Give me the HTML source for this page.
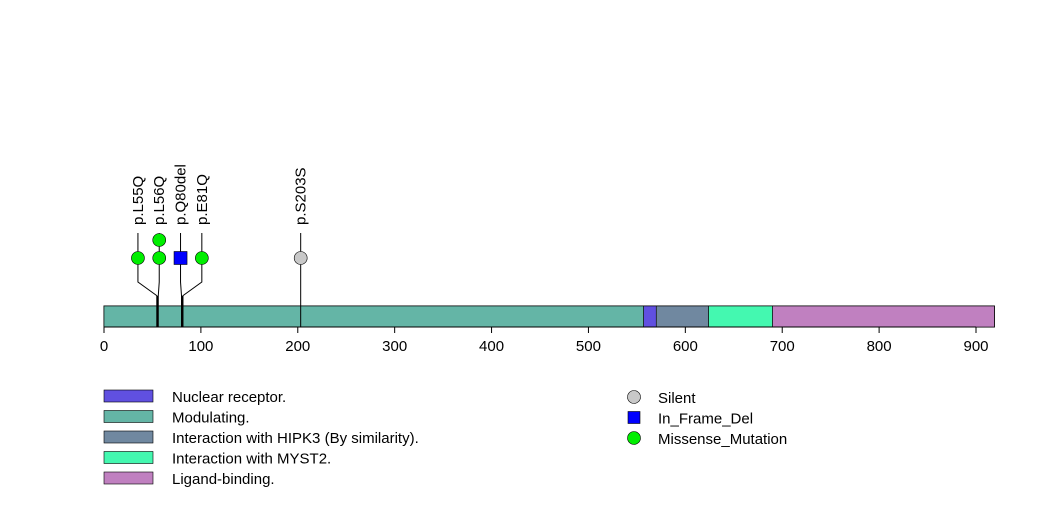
<!DOCTYPE html>
<html><head><meta charset="utf-8"><style>
body{margin:0;background:#fff}
svg{display:block;font-family:"Liberation Sans",sans-serif}
</style></head><body>
<svg width="1047" height="524">
<g id="g"></g>
</svg>
<script>
const domainNames=["Modulating.","Nuclear receptor.","Interaction with HIPK3 (By similarity).","Interaction with MYST2.","Ligand-binding."];
const domainStart=[0,557,570,624,690];
const domainEnd=[557,570,624,690,919];
const domainColors=["#64b5a6","#6050e0","#7088a0","#44f8b0","#c080c0"];
const mutLabels=["p.L55Q","p.L56Q","p.Q80del","p.E81Q","p.S203S"];
const mutPos=[55,56,80,81,203];
const mutTypes=["Missense_Mutation","Missense_Mutation","In_Frame_Del","Missense_Mutation","Silent"];
const mutCounts=[1,2,1,1,1];
const ticks=[0,100,200,300,400,500,600,700,800,900];
const proteinLen=919;
const NS="http://www.w3.org/2000/svg";
const g=document.getElementById('g');
const X=v=>104+v*872/900;
function mk(t,a,txt){const e=document.createElementNS(NS,t);for(const k in a)e.setAttribute(k,a[k]);if(txt!==undefined)e.textContent=txt;g.appendChild(e);return e;}
const typeColor={"Silent":"#c8c8c8","In_Frame_Del":"#0000ff","Missense_Mutation":"#00ee00"};
let r=mk('rect',{x:X(0),y:306,width:X(proteinLen)-X(0),height:21,fill:domainColors[0],stroke:'#000'});


domainNames.forEach((n,i)=>{
 const d=mk('rect',{x:X(domainStart[i]),y:306,width:X(domainEnd[i])-X(domainStart[i]),height:21,fill:domainColors[i],stroke:'#000','stroke-width':0.6});
 
 
});
mk('line',{x1:X(0),x2:X(900),y1:327,y2:327,stroke:'#000'});
ticks.forEach(t=>{
 mk('line',{x1:X(t),x2:X(t),y1:327,y2:333,stroke:'#000'});
 const tl=mk('text',{x:X(t),y:351,'font-size':15,'text-anchor':'middle'},t);
 
 
});
const headX=[];
mutPos.forEach((p,i)=>{headX.push(X(p));});
for(let i=1;i<headX.length;i++){if(headX[i]-headX[i-1]<21)headX[i]=headX[i-1]+21.3;}
const grp=[0,1,2,3];const base=grp.reduce((s,i)=>s+X(mutPos[i]),0)/4;const spread=grp.reduce((s,i)=>s+headX[i],0)/4;
grp.forEach(i=>headX[i]+=base-spread);
mutPos.forEach((p,i)=>{
 const px=X(p),hx=headX[i];
 mk('line',{x1:px,x2:px,y1:296,y2:327,stroke:'#000','stroke-width':Math.abs(hx-px)>1?2:1});
 mk('polyline',{points:`${px},296 ${hx},282 ${hx},233`,fill:'none',stroke:'#000'});
 for(let k=0;k<mutCounts[i];k++){
  const cy=258-k*18;let m;
  if(mutTypes[i]==="In_Frame_Del")m=mk('rect',{x:hx-6.5,y:cy-6.5,width:13,height:13,fill:typeColor[mutTypes[i]],stroke:'#000','stroke-width':0.6});
  else m=mk('circle',{cx:hx,cy:cy,r:6.5,fill:typeColor[mutTypes[i]],stroke:'#000','stroke-width':0.6});
  
  
 }
 const t=mk('text',{x:0,y:0,'font-size':15,transform:`translate(${hx+5},225) rotate(-90)`},mutLabels[i]);
 
 
});
const legOrder=[1,0,2,3,4];
legOrder.forEach((d,j)=>{
 const y=390+j*20.5;
 const lr=mk('rect',{x:104,y:y,width:49,height:12,fill:domainColors[d],stroke:'#000','stroke-width':0.6});
 
 
 const lt=mk('text',{x:172,y:y+12,'font-size':15},domainNames[d]);
 
 
});
const legTypes=["Silent","In_Frame_Del","Missense_Mutation"];
legTypes.forEach((t,j)=>{
 const y=397+j*20.5;
 let m;
 if(t==="In_Frame_Del")m=mk('rect',{x:628,y:y-6,width:12,height:12,fill:typeColor[t],stroke:'#000','stroke-width':0.6});
 else m=mk('circle',{cx:634,cy:y,r:6.5,fill:typeColor[t],stroke:'#000','stroke-width':0.6});
 
 
 const lt=mk('text',{x:658,y:y+6,'font-size':15},t);
 
 
});
</script>
</body></html>
